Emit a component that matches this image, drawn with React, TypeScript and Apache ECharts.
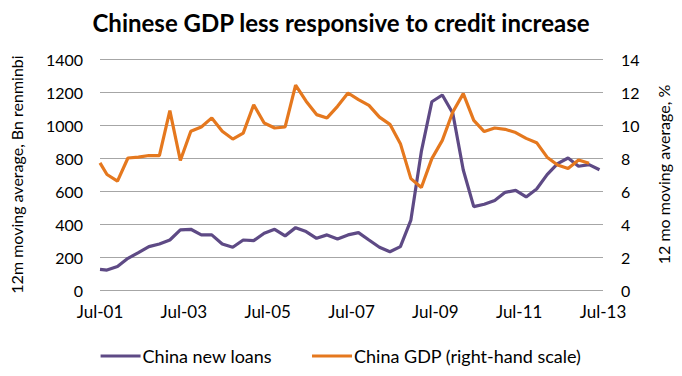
import React, { useEffect, useRef } from "react";
import * as echarts from "echarts";

const title = "Chinese GDP less responsive to credit increase";
const seriesNames = ["China new loans", "China GDP (right-hand scale)"];
const leftAxisName = "12m moving average, Bn renminbi";
const rightAxisName = "12 mo moving average, %";

// observation dates (year-month)
const dates = [
  "2001-07", "2001-09", "2001-12", "2002-03", "2002-06", "2002-09", "2002-12",
  "2003-03", "2003-06", "2003-09", "2003-12", "2004-03", "2004-06", "2004-09", "2004-12",
  "2005-03", "2005-06", "2005-09", "2005-12", "2006-03", "2006-06", "2006-09", "2006-12",
  "2007-03", "2007-06", "2007-09", "2007-12", "2008-03", "2008-06", "2008-09", "2008-12",
  "2009-03", "2009-06", "2009-09", "2009-12", "2010-03", "2010-06", "2010-09", "2010-12",
  "2011-03", "2011-06", "2011-09", "2011-12", "2012-03", "2012-06", "2012-09", "2012-12",
  "2013-03", "2013-06",
];

// China new loans, Bn renminbi (12m moving average)
const loans = [
  125, 121, 142, 192, 226, 263, 279, 303, 364, 368, 334, 334, 279, 259, 303,
  299, 344, 368, 328, 378, 354, 313, 334, 309, 334, 348, 303, 259, 232, 263,
  424, 840, 1141, 1182, 1071, 727, 505, 520, 543, 592, 604, 564, 612, 699,
  766, 800, 750, 760, 729,
];

// China GDP growth, % (right-hand scale); ends Mar-13
const gdp = [
  7.7, 7.0, 6.6, 8.0, 8.05, 8.15, 8.15, 10.87, 7.85, 9.62, 9.88, 10.43, 9.62,
  9.15, 9.51, 11.23, 10.12, 9.82, 9.88, 12.41, 11.44, 10.63, 10.43, 11.13,
  11.94, 11.54, 11.19, 10.48, 10.04, 8.87, 6.75, 6.21, 7.96, 9.07, 10.79,
  11.9, 10.28, 9.6, 9.82, 9.74, 9.54, 9.19, 8.93, 8.05, 7.58, 7.37, 7.88, 7.68,
];

const xTickLabels = ["Jul-01", "Jul-03", "Jul-05", "Jul-07", "Jul-09", "Jul-11", "Jul-13"];

const monthIndex = (d: string) => {
  const [y, m] = d.split("-").map(Number);
  return (y - 2001) * 12 + (m - 7);
};

export default function App() {
  const ref = useRef<HTMLDivElement>(null);
  useEffect(() => {
    if (!ref.current) return;
    const chart = echarts.init(ref.current, null, { renderer: "svg" });
    const font = "Lato, 'Open Sans', sans-serif";
    chart.setOption({
      animation: false,
      backgroundColor: "#ffffff",
      title: {
        text: title,
        left: "center",
        top: 5,
        textStyle: { fontFamily: font, fontWeight: "bold", fontSize: 24, color: "#000" },
      },
      legend: {
        bottom: 6,
        left: "center",
        itemWidth: 40,
        itemHeight: 3,
        itemGap: 40,
        icon: "rect",
        textStyle: { fontFamily: font, fontSize: 18, color: "#000", padding: [0, 0, 0, -3] },
        data: seriesNames,
      },
      grid: { left: 96, right: 79, top: 59, bottom: 86 },
      xAxis: {
        type: "value",
        min: 0,
        max: 144,
        interval: 24,
        axisLine: { show: false },
        axisTick: { show: false },
        splitLine: { show: false },
        axisLabel: {
          margin: 13,
          fontFamily: font,
          fontSize: 17,
          color: "#000",
          formatter: (v: number) => xTickLabels[Math.round(v / 24)] ?? "",
        },
      },
      yAxis: [
        {
          type: "value",
          min: 0,
          max: 1400,
          interval: 200,
          position: "left",
          name: leftAxisName,
          nameLocation: "middle",
          nameRotate: 90,
          nameGap: 76,
          nameTextStyle: { fontFamily: font, fontSize: 16, color: "#000" },
          axisLine: { show: false },
          axisTick: { show: false },
          axisLabel: {
            margin: 17,
            fontFamily: font,
            fontSize: 16,
            color: "#000",
            formatter: (v: number) => String(v),
          },
          splitLine: { lineStyle: { color: "#a6a6a6", width: 1 } },
        },
        {
          type: "value",
          min: 0,
          max: 14,
          interval: 2,
          position: "right",
          name: rightAxisName,
          nameLocation: "middle",
          nameRotate: 90,
          nameGap: 52,
          nameTextStyle: { fontFamily: font, fontSize: 16, color: "#000" },
          axisLine: { show: false },
          axisTick: { show: false },
          axisLabel: {
            margin: 18,
            fontFamily: font,
            fontSize: 16,
            color: "#000",
            formatter: (v: number) => String(v),
          },
          splitLine: { show: false },
        },
      ],
      series: [
        {
          name: seriesNames[0],
          type: "line",
          yAxisIndex: 0,
          showSymbol: false,
          symbol: "none",
          data: loans.map((v, i) => [monthIndex(dates[i]), v]),
          lineStyle: { color: "#5e4a85", width: 3.2 },
          itemStyle: { color: "#5e4a85" },
        },
        {
          name: seriesNames[1],
          type: "line",
          yAxisIndex: 1,
          showSymbol: false,
          symbol: "none",
          data: gdp.map((v, i) => [monthIndex(dates[i]), v]),
          lineStyle: { color: "#e5781e", width: 3.2 },
          itemStyle: { color: "#e5781e" },
          z: 3,
        },
      ],
    });
    return () => chart.dispose();
  }, []);
  return (
    <div
      ref={ref}
      style={{ position: "fixed", left: 0, top: 0, width: 682, height: 376 }}
    />
  );
}
